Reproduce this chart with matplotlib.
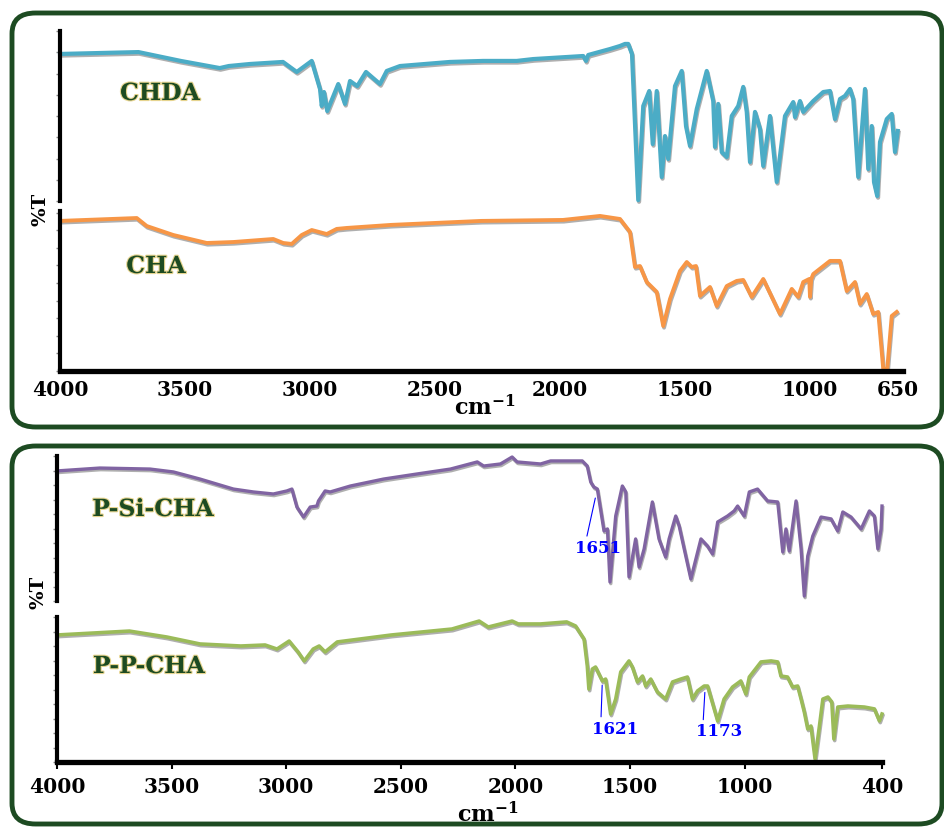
import numpy as np
import matplotlib.pyplot as plt
import matplotlib.patheffects as pe
from matplotlib.patches import FancyBboxPatch

# ---- data (wavenumber cm-1, transmittance in % of each strip)
chda_wn = [4000, 3686, 3517, 3361, 3325, 3240, 3108, 3053, 2993, 2960, 2953, 2944, 2931,
           2887, 2860, 2840, 2811, 2776, 2720, 2693, 2640, 2440, 2307, 2173, 2107, 1973,
           1907, 1896, 1887, 1800, 1760, 1740, 1727, 1712, 1687, 1667, 1643, 1629, 1613,
           1593, 1580, 1567, 1540, 1513, 1496, 1480, 1453, 1413, 1387, 1380, 1367, 1353,
           1333, 1313, 1287, 1267, 1253, 1240, 1220, 1200, 1187, 1160, 1133, 1100, 1067,
           1060, 1040, 1027, 987, 947, 920, 900, 880, 860, 840, 827, 807, 780, 767, 753,
           744, 731, 720, 693, 673, 660, 649]
chda_t = [86.5, 87.6, 82.4, 78.2, 79.4, 80.6, 81.8, 75.9, 82.4, 65.9, 55.9, 64.1, 52.9,
          68.8, 57.1, 70.6, 67.6, 75.9, 68.8, 76.5, 79.4, 81.8, 82.4, 82.4, 83.5, 84.7,
          85.3, 82.4, 85.9, 89.4, 91.2, 92.4, 92.4, 86.5, 0.5, 55.9, 64.7, 33.5, 64.7,
          14.1, 38.2, 24.7, 67.6, 76.5, 44.1, 32.4, 54.1, 76.5, 58.8, 31.8, 57.1, 28.8,
          25.9, 50.0, 55.9, 67.1, 52.4, 22.9, 52.4, 42.4, 20.6, 50.0, 11.2, 50.0, 58.2,
          49.4, 58.8, 52.4, 58.8, 64.1, 64.7, 48.2, 60.0, 61.8, 65.9, 60.0, 14.1, 65.9,
          18.8, 44.1, 11.2, 2.9, 34.7, 48.2, 51.2, 28.8, 41.2]

cha_wn = [4000, 3693, 3653, 3547, 3413, 3307, 3147, 3107, 3073, 3033, 2993, 2933, 2893,
          2853, 2676, 2314, 1988, 1840, 1760, 1720, 1700, 1680, 1653, 1613, 1587, 1560,
          1520, 1493, 1473, 1456, 1440, 1400, 1373, 1333, 1293, 1267, 1233, 1187, 1120,
          1073, 1047, 1027, 1003, 1000, 995, 987, 920, 880, 853, 820, 800, 773, 747, 727,
          707, 691, 673, 653]
cha_t = [93.8, 95.6, 90.6, 85.0, 80.0, 80.6, 82.5, 80.0, 79.4, 85.0, 88.1, 85.6, 88.8,
         89.4, 91.3, 93.8, 94.4, 96.9, 95.0, 86.9, 65.0, 65.6, 55.6, 49.4, 28.1, 45.0,
         62.5, 68.1, 65.0, 65.6, 46.9, 52.5, 40.6, 53.1, 56.3, 56.9, 46.3, 57.5, 35.6,
         51.3, 46.3, 55.6, 57.5, 46.3, 57.5, 60.6, 68.8, 68.8, 50.0, 55.6, 41.9, 48.1,
         35.6, 36.9, 1.3, 1.3, 34.4, 36.9]

psi_wn = [4000, 3813, 3594, 3492, 3376, 3230, 3143, 3056, 2997, 2975, 2953, 2924, 2895,
          2866, 2859, 2830, 2808, 2720, 2575, 2429, 2283, 2166, 2138, 2065, 2014, 1992,
          1890, 1846, 1708, 1686, 1671, 1657, 1642, 1613, 1598, 1587, 1562, 1533, 1518,
          1504, 1475, 1460, 1438, 1402, 1373, 1344, 1329, 1300, 1285, 1263, 1234, 1190,
          1161, 1139, 1117, 1074, 1045, 1030, 1001, 979, 943, 899, 855, 833, 819, 805,
          775, 753, 739, 724, 702, 666, 622, 593, 571, 535, 491, 455, 433, 418, 404, 400]
psi_t = [89.7, 91.7, 91.0, 89.0, 84.1, 77.2, 75.2, 73.8, 75.9, 77.2, 64.8, 57.9, 64.8,
         65.5, 69.0, 75.9, 75.2, 79.3, 84.1, 87.6, 91.0, 95.9, 93.1, 94.5, 99.3, 95.9,
         94.5, 96.6, 96.6, 93.1, 82.1, 78.6, 77.2, 48.3, 49.7, 13.1, 58.6, 79.3, 75.2,
         16.6, 42.8, 23.4, 35.9, 68.3, 42.8, 30.3, 42.8, 58.6, 51.7, 35.9, 15.2, 42.8,
         37.9, 32.4, 54.5, 58.6, 62.1, 65.5, 58.6, 75.2, 77.2, 69.0, 68.3, 33.8, 49.7,
         34.5, 69.0, 35.9, 3.4, 31.0, 44.8, 57.9, 56.6, 48.3, 61.4, 57.9, 49.7, 62.1,
         58.6, 35.9, 49.7, 65.5]

ppc_wn = [4000, 3684, 3521, 3376, 3198, 3092, 3040, 2987, 2948, 2921, 2882, 2856, 2830,
          2777, 2541, 2277, 2158, 2118, 2014, 1987, 1891, 1776, 1737, 1700, 1686, 1679,
          1664, 1650, 1620, 1606, 1584, 1562, 1540, 1504, 1489, 1467, 1445, 1431, 1409,
          1380, 1344, 1314, 1278, 1249, 1227, 1205, 1176, 1161, 1117, 1089, 1052, 1016,
          994, 979, 928, 884, 855, 841, 812, 790, 768, 753, 739, 724, 710, 692, 673, 658,
          636, 619, 610, 593, 549, 477, 433, 411, 400]
ppc_t = [87.6, 90.3, 86.2, 81.4, 80.0, 80.7, 77.9, 83.4, 75.9, 69.7, 77.9, 80.0, 75.9,
         82.8, 87.6, 91.7, 97.2, 93.1, 97.2, 95.2, 95.2, 96.6, 93.8, 84.8, 66.2, 50.3,
         64.1, 65.5, 55.9, 57.2, 33.1, 43.4, 62.1, 69.7, 65.5, 55.2, 59.3, 52.4, 57.2,
         48.3, 43.4, 55.2, 57.2, 58.6, 43.4, 49.0, 52.4, 52.4, 28.3, 43.4, 51.7, 55.9,
         46.9, 58.6, 69.0, 69.7, 69.0, 59.3, 58.6, 51.7, 52.4, 43.4, 34.5, 22.8, 24.8,
         2.1, 24.8, 43.4, 44.8, 41.4, 15.9, 37.9, 38.6, 37.9, 36.6, 28.3, 33.1]

top_ticks = [4000, 3500, 3000, 2500, 2000, 1500, 1000, 650]
bot_ticks = [4000, 3500, 3000, 2500, 2000, 1500, 1000, 400]

psi_peaks = [1651]
psi_peak_t = [71]
ppc_peaks = [1621, 1173]
ppc_peak_t = [53, 48]

plt.rcParams['font.family'] = ['DejaVu Serif']
plt.rcParams['mathtext.fontset'] = 'dejavuserif'

W, H = 944, 828
fig = plt.figure(figsize=(9.44, 8.28), dpi=100)
fig.patch.set_facecolor('white')

green_dark = '#1d4b22'


def add_ax(l, t, r, b):
    # pixel box -> figure fraction
    return fig.add_axes([l / W, 1 - b / H, (r - l) / W, (b - t) / H])


def style(ax, xlim, bottom, ystep):
    ax.set_xlim(*xlim)
    ax.set_ylim(0, 100)
    ax.patch.set_alpha(0)
    for s in ['top', 'right']:
        ax.spines[s].set_visible(False)
    ax.spines['left'].set_linewidth(3)
    ax.spines['left'].set_color('black')
    ax.set_yticks(np.arange(0, 100.1, ystep))
    ax.tick_params(axis='y', length=3, width=1, color='#888888', labelleft=False)
    if not bottom:
        ax.spines['bottom'].set_visible(False)
        ax.tick_params(axis='x', bottom=False, labelbottom=False)
    else:
        ax.spines['bottom'].set_linewidth(3.8)


shadow = [pe.SimpleLineShadow(offset=(0.6, -1.2), shadow_color='#7a7a7a', alpha=0.6),
          pe.Normal()]
label_fx = [pe.withStroke(linewidth=1.6, foreground='#e6d48f')]

# ---- top panel
a1 = add_ax(60, 32, 903, 202)
a2 = add_ax(60, 212, 903, 372)
style(a1, (4000, 628), False, 12.5)
style(a2, (4000, 628), True, 11)
a1.plot(chda_wn, chda_t, color='#4bacc6', lw=3.0, clip_on=False, path_effects=shadow)
a2.plot(cha_wn, cha_t, color='#f79646', lw=2.8, clip_on=False, path_effects=shadow)
a2.set_xticks(top_ticks)
a2.set_xticklabels([str(t) for t in top_ticks], fontsize=14.5, fontweight='bold')
a2.tick_params(axis='x', length=0, pad=6)

# ---- bottom panel
b1 = add_ax(57, 457, 882, 602)
b2 = add_ax(57, 618, 882, 763)
style(b1, (4000, 400), False, 10)
style(b2, (4000, 400), True, 10)
b1.plot(psi_wn, psi_t, color='#8064a2', lw=2.4, clip_on=False, path_effects=shadow)
b2.plot(ppc_wn, ppc_t, color='#9bbb59', lw=2.6, clip_on=False, path_effects=shadow)
b2.set_xticks(bot_ticks)
b2.set_xticklabels([str(t) for t in bot_ticks], fontsize=14.5, fontweight='bold')
b2.tick_params(axis='x', length=5, width=1.5, pad=5)

# peak annotations
ann_kw = dict(ha='center', va='center', fontsize=12, fontweight='bold', color='blue')
b1.annotate(str(psi_peaks[0]), xy=(psi_peaks[0], psi_peak_t[0]), xytext=(1640, 37),
            arrowprops=dict(arrowstyle='-', color='blue', lw=0.8, relpos=(0.25, 1.0),
                            shrinkA=0, shrinkB=0), **ann_kw)
for wn, t, xt, rp in zip(ppc_peaks, ppc_peak_t, [(1566, 23.4), (1112, 21.4)], [0.2, 0.16]):
    b2.annotate(str(wn), xy=(wn, t), xytext=xt,
                arrowprops=dict(arrowstyle='-', color='blue', lw=0.8, relpos=(rp, 1.0),
                                shrinkA=0, shrinkB=0), **ann_kw)

# ---- sample names, axis titles
names = [('CHDA', 160, 94), ('CHA', 156, 267), ('P-Si-CHA', 153, 510), ('P-P-CHA', 149, 667)]
for txt, x, y in names:
    fig.text(x / W, 1 - y / H, txt, ha='center', va='center', fontsize=17,
             fontweight='bold', color=green_dark, path_effects=label_fx)

for x, y in [(41, 209), (38, 592)]:
    fig.text(x / W, 1 - y / H, '%T', rotation=90, ha='center', va='center',
             fontsize=14, fontweight='bold')
for x, y in [(485, 408), (488, 815)]:
    fig.text(x / W, 1 - y / H, r'$\mathbf{cm^{-1}}$', ha='center', va='center', fontsize=16)

# ---- rounded frames
for t, b in [(14, 428), (447, 825)]:
    fig.add_artist(FancyBboxPatch((12 / W, 1 - b / H), (942 - 12) / W, (b - t) / H,
                                  boxstyle='round,pad=0,rounding_size=0.025',
                                  transform=fig.transFigure, fill=False,
                                  ec=green_dark, lw=3.5))

fig.savefig('out.png', dpi=100)
